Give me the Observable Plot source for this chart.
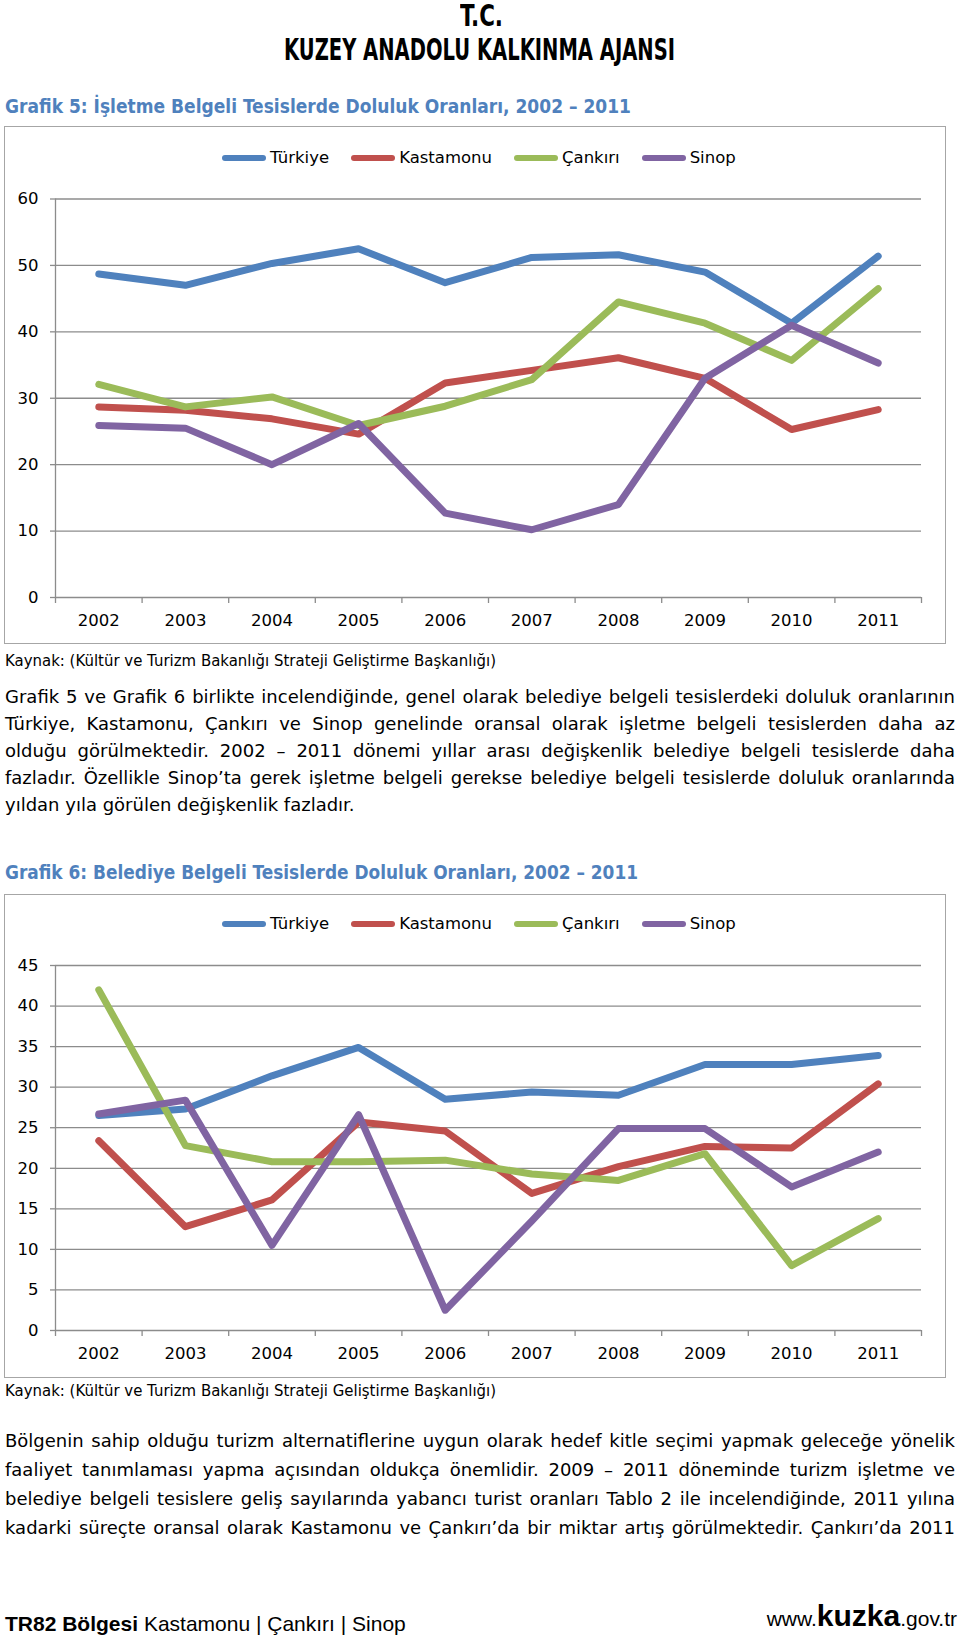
<!DOCTYPE html>
<html lang="tr">
<head>
<meta charset="utf-8">
<script src="https://cdn.jsdelivr.net/npm/d3@7"></script>
<script src="https://cdn.jsdelivr.net/npm/@observablehq/plot@0.6"></script>
<style>
  html, body { margin: 0; padding: 0; background: #fff; }
  body { width: 960px; height: 1637px; position: relative; overflow: hidden; font-family: "DejaVu Sans", sans-serif; color: #000; }
  .abs { position: absolute; line-height: 1; white-space: nowrap; }
  .hdr { font-family: "DejaVu Sans Condensed", "DejaVu Sans", sans-serif; font-weight: bold; font-size: 30px; display: inline-block; }
  .title { font-family: "DejaVu Sans Condensed", "DejaVu Sans", sans-serif; font-weight: bold; font-size: 19px; color: #4F81BD; display: inline-block; }
  .src { font-size: 15px; display: inline-block; }
  .frame { position: absolute; border: 1.5px solid #a6a6a6; box-sizing: border-box; }
  .legend { position: absolute; display: flex; align-items: center; font-size: 16.5px; line-height: 1; white-space: nowrap; }
  .legend .sw { width: 44px; height: 6px; border-radius: 3px; margin-right: 4px; }
  .legend .item { display: flex; align-items: center; margin-right: 22px; }
  .line { position: absolute; left: 5px; font-size: 18px; line-height: 1; white-space: nowrap; display: inline-block; }
  .foot { font-family: "Liberation Sans", Arial, sans-serif; font-size: 21px; }
  .plot { position: absolute; left: 0; }
</style>
</head>
<body>
<script>
// ---------------- data ----------------
const years = [2002, 2003, 2004, 2005, 2006, 2007, 2008, 2009, 2010, 2011];
const seriesNames = ["Türkiye", "Kastamonu", "Çankırı", "Sinop"];
const seriesColors = ["#4F81BD", "#C0504D", "#9BBB59", "#8064A2"];

// Grafik 5: İşletme Belgeli Tesislerde Doluluk Oranları
const g5Turkiye   = [48.7, 47.0, 50.3, 52.5, 47.4, 51.2, 51.6, 49.0, 41.3, 51.4];
const g5Kastamonu = [28.7, 28.2, 26.9, 24.6, 32.3, 34.2, 36.1, 33.0, 25.3, 28.3];
const g5Cankiri   = [32.1, 28.7, 30.2, 25.9, 28.8, 32.8, 44.5, 41.3, 35.7, 46.5];
const g5Sinop     = [25.9, 25.5, 20.0, 26.2, 12.7, 10.2, 14.0, 33.0, 41.0, 35.3];
const g5Ticks     = [0, 10, 20, 30, 40, 50, 60];

// Grafik 6: Belediye Belgeli Tesislerde Doluluk Oranları
const g6Turkiye   = [26.5, 27.3, 31.4, 34.9, 28.5, 29.4, 29.0, 32.8, 32.8, 33.9];
const g6Kastamonu = [23.4, 12.8, 16.1, 25.7, 24.6, 16.9, 20.2, 22.7, 22.5, 30.4];
const g6Cankiri   = [42.0, 22.8, 20.8, 20.8, 21.0, 19.3, 18.5, 21.8, 8.0, 13.8];
const g6Sinop     = [26.7, 28.4, 10.5, 26.6, 2.5, 13.5, 24.9, 24.9, 17.7, 22.0];
const g6Ticks     = [0, 5, 10, 15, 20, 25, 30, 35, 40, 45];

// category boundaries for the x tick marks
const yearBounds = [2001.5, 2002.5, 2003.5, 2004.5, 2005.5, 2006.5, 2007.5, 2008.5, 2009.5, 2010.5, 2011.5];

const title5 = "Grafik 5: İşletme Belgeli Tesislerde Doluluk Oranları, 2002 – 2011";
const title6 = "Grafik 6: Belediye Belgeli Tesislerde Doluluk Oranları, 2002 – 2011";
const sourceText = "Kaynak: (Kültür ve Turizm Bakanlığı Strateji Geliştirme Başkanlığı)";
const para1 = [
  "Grafik 5 ve Grafik 6 birlikte incelendiğinde, genel olarak belediye belgeli tesislerdeki doluluk oranlarının",
  "Türkiye, Kastamonu, Çankırı ve Sinop genelinde oransal olarak işletme belgeli tesislerden daha az",
  "olduğu görülmektedir. 2002 – 2011 dönemi yıllar arası değişkenlik belediye belgeli tesislerde daha",
  "fazladır. Özellikle Sinop’ta gerek işletme belgeli gerekse belediye belgeli tesislerde doluluk oranlarında",
  "yıldan yıla görülen değişkenlik fazladır."
];
const para2 = [
  "Bölgenin sahip olduğu turizm alternatiflerine uygun olarak hedef kitle seçimi yapmak geleceğe yönelik",
  "faaliyet tanımlaması yapma açısından oldukça önemlidir. 2009 – 2011 döneminde turizm işletme ve",
  "belediye belgeli tesislere geliş sayılarında yabancı turist oranları Tablo 2 ile incelendiğinde, 2011 yılına",
  "kadarki süreçte oransal olarak Kastamonu ve Çankırı’da bir miktar artış görülmektedir. Çankırı’da 2011"
];

function toRows(arrs) {
  const rows = [];
  arrs.forEach((arr, si) => arr.forEach((v, i) => rows.push({series: seriesNames[si], year: years[i], value: v})));
  return rows;
}
const rows5 = toRows([g5Turkiye, g5Kastamonu, g5Cankiri, g5Sinop]);
const rows6 = toRows([g6Turkiye, g6Kastamonu, g6Cankiri, g6Sinop]);

// ---------------- helpers ----------------
function addText(txt, cls, left, centerY, fs, extraStyle) {
  const d = document.createElement("div");
  d.className = "abs " + cls;
  d.textContent = txt;
  d.style.left = left + "px";
  d.style.top = (centerY - 0.5 * fs) + "px";
  if (extraStyle) Object.assign(d.style, extraStyle);
  document.body.appendChild(d);
  return d;
}
function fitWidth(el, w) {
  const r = el.getBoundingClientRect().width;
  el.style.transformOrigin = "left center";
  el.style.transform = `scaleX(${w / r})`;
}
function justifyLine(el, w) {
  const r = el.getBoundingClientRect().width;
  const spaces = (el.textContent.match(/ /g) || []).length;
  if (spaces) el.style.wordSpacing = ((w - r) / spaces) + "px";
}
function addLegend(centerY) {
  const lg = document.createElement("div");
  lg.className = "legend";
  lg.style.left = "222px";
  lg.style.top = (centerY - 9) + "px";
  lg.style.height = "18px";
  seriesNames.forEach((n, i) => {
    const it = document.createElement("div");
    it.className = "item";
    const sw = document.createElement("div");
    sw.className = "sw";
    sw.style.background = seriesColors[i];
    const t = document.createElement("span");
    t.textContent = n;
    it.appendChild(sw); it.appendChild(t);
    lg.appendChild(it);
  });
  document.body.appendChild(lg);
}
function addFrame(top, bottom) {
  const f = document.createElement("div");
  f.className = "frame";
  f.style.left = "4px"; f.style.width = (946 - 4) + "px";
  f.style.top = top + "px"; f.style.height = (bottom - top) + "px";
  document.body.appendChild(f);
}
function makeChart(rows, yTicks, yMax, top, height, mTop, mBottom) {
  const gray = "#8c8c8c";
  const p = Plot.plot({
    width: 960, height, marginLeft: 55, marginRight: 39, marginTop: mTop, marginBottom: mBottom,
    style: {fontFamily: "DejaVu Sans, sans-serif", fontSize: "16.5px", color: "#000", background: "transparent", overflow: "visible"},
    x: {type: "linear", domain: [yearBounds[0], yearBounds[yearBounds.length - 1]]},
    y: {domain: [0, yMax]},
    color: {domain: seriesNames, range: seriesColors},
    marks: [
      Plot.gridY(yTicks, {stroke: gray, strokeOpacity: 1, strokeWidth: 1.3}),
      Plot.ruleX([yearBounds[0]], {stroke: gray, strokeWidth: 1.3}),
      Plot.axisY(yTicks, {tickSize: 5, tickPadding: 12, stroke: gray, strokeWidth: 1.3, fill: "#000", tickFormat: d => String(d), label: null}),
      Plot.axisX(yearBounds, {tickSize: 6, tickFormat: () => "", stroke: gray, strokeWidth: 1.3, label: null}),
      Plot.axisX(years, {tickSize: 0, tickPadding: 17, tickFormat: d => String(d), fill: "#000", label: null}),
      Plot.line(rows, {x: "year", y: "value", z: "series", stroke: "series", strokeWidth: 7, strokeLinejoin: "round", strokeLinecap: "round"})
    ]
  });
  p.classList.add("plot");
  p.style.top = top + "px";
  document.body.appendChild(p);
}

// ---------------- header ----------------
const tc = addText("T.C.", "hdr", 0, 16, 30);
tc.style.top = "1px";
const kz = addText("KUZEY ANADOLU KALKINMA AJANSI", "hdr", 0, 50, 30);
kz.style.top = "35px";
fitWidth(tc, 43); tc.style.left = (481 - 21) + "px";
fitWidth(kz, 391); kz.style.left = "284px";

// ---------------- Grafik 5 ----------------
const t5 = addText(title5, "title", 5, 106, 19);
fitWidth(t5, 626);
addFrame(126, 644);
addLegend(158);
makeChart(rows5, g5Ticks, 60, 180, 460, 18.5, 43);
const s5 = addText(sourceText, "src", 5, 661, 15);
fitWidth(s5, 491);

para1.forEach((l, i) => {
  const c = [697, 724, 751, 778, 805][i];
  const el = addText(l, "line", 5, c, 18);
  if (i < para1.length - 1) justifyLine(el, 950);
});

// ---------------- Grafik 6 ----------------
const t6 = addText(title6, "title", 5, 872, 19);
fitWidth(t6, 633);
addFrame(894, 1378);
addLegend(924);
makeChart(rows6, g6Ticks, 45, 945, 430, 20, 45);
const s6 = addText(sourceText, "src", 5, 1391, 15);
fitWidth(s6, 491);

para2.forEach((l, i) => {
  const c = [1441, 1470, 1499, 1528][i];
  const el = addText(l, "line", 5, c, 18);
  justifyLine(el, 950);
});

// ---------------- footer ----------------
const f1 = document.createElement("div");
f1.className = "abs foot";
f1.style.left = "5px"; f1.style.top = (1623 - 0.5 * 21) + "px";
f1.innerHTML = "<b>TR82 Bölgesi</b> Kastamonu | Çankırı | Sinop";
document.body.appendChild(f1);
const f2 = document.createElement("div");
f2.className = "abs foot";
f2.style.right = "3px"; f2.style.top = (1630 - 28) + "px";
f2.style.height = "30px"; f2.style.display = "flex"; f2.style.alignItems = "baseline"; f2.style.lineHeight = "28px";
f2.innerHTML = "<span>www.</span><b style='font-size:30px'>kuzka</b><span>.gov.tr</span>";
document.body.appendChild(f2);
</script>
</body>
</html>
